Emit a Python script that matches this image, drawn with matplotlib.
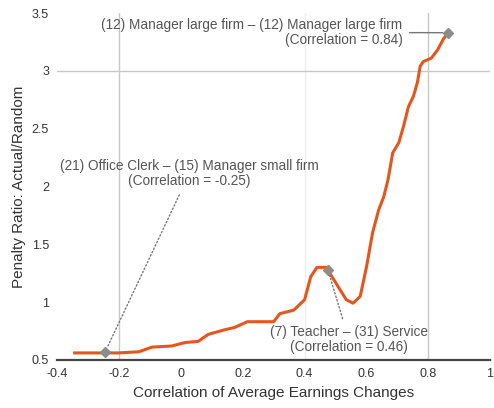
import numpy as np
import matplotlib
matplotlib.use("Agg")
import matplotlib.pyplot as plt

plt.rcParams['font.family'] = ['Liberation Sans', 'DejaVu Sans']

# curve
corr = [-0.344, -0.30, -0.25, -0.20, -0.136, -0.094, -0.03, 0.014, 0.056, 0.088,
        0.141, 0.173, 0.215, 0.25, 0.30, 0.32, 0.365, 0.40, 0.42, 0.44, 0.47,
        0.50, 0.535, 0.557, 0.58, 0.60, 0.62, 0.64, 0.656, 0.67, 0.685, 0.705,
        0.72, 0.736, 0.752, 0.765, 0.774, 0.784, 0.81, 0.83, 0.85, 0.865]
ratio = [0.56, 0.56, 0.56, 0.56, 0.57, 0.61, 0.62, 0.65, 0.66, 0.72,
         0.76, 0.78, 0.83, 0.83, 0.83, 0.90, 0.93, 1.02, 1.22, 1.30, 1.30,
         1.17, 1.02, 0.99, 1.05, 1.30, 1.60, 1.80, 1.91, 2.06, 2.29, 2.38,
         2.52, 2.69, 2.78, 2.90, 3.04, 3.08, 3.11, 3.18, 3.28, 3.33]

# highlighted pairs
pt_x = [-0.245, 0.475, 0.865]
pt_y = [0.57, 1.28, 3.33]
pt_labels = ["(21) Office Clerk \u2013 (15) Manager small firm\n(Correlation = -0.25)",
             "(7) Teacher \u2013 (31) Service\n(Correlation = 0.46)",
             "(12) Manager large firm \u2013 (12) Manager large firm\n(Correlation = 0.84)"]
txt_x = [0.027, 0.544, 0.717]
txt_y = [2.11, 0.673, 3.333]
txt_ha = ['center', 'center', 'right']
txt_ls = [':', ':', '-']

xticks = [-0.4, -0.2, 0, 0.2, 0.4, 0.6, 0.8, 1]
xticklabels = ['-0.4', '-0.2', '0', '0.2', '0.4', '0.6', '0.8', '1']
yticks = [0.5, 1, 1.5, 2, 2.5, 3, 3.5]
yticklabels = ['0.5', '1', '1.5', '2', '2.5', '3', '3.5']

fig = plt.figure(figsize=(4.94, 4.08), dpi=100)
ax = fig.add_axes([0.116, 0.118, 0.876, 0.850])

ax.axvline(0.4, color='#ededed', lw=1, zorder=0)
ax.axvline(-0.2, color='#c8c8c8', lw=1, zorder=0)
ax.axvline(0.8, color='#c8c8c8', lw=1, zorder=0)
ax.axhline(3, color='#c8c8c8', lw=1, zorder=0)

ax.plot(corr, ratio, color='#E4561B', lw=2.2, zorder=3)
ax.plot(pt_x, pt_y, 'D', color='#8c8c8c', ms=5, zorder=4, ls='none')

for i in range(len(pt_x)):
    ax.annotate(pt_labels[i], xy=(pt_x[i], pt_y[i]), xytext=(txt_x[i], txt_y[i]),
                ha=txt_ha[i], va='center', multialignment=txt_ha[i],
                fontsize=9.8, color='#555555', linespacing=1.1,
                arrowprops=dict(arrowstyle='-', color='#777777', lw=1,
                                ls=txt_ls[i], shrinkA=3, shrinkB=4))

ax.set_xlim(-0.4, 1.0)
ax.set_ylim(0.5, 3.5)
ax.set_xticks(xticks)
ax.set_xticklabels(xticklabels)
ax.set_yticks(yticks)
ax.set_yticklabels(yticklabels)
ax.tick_params(length=0, labelsize=9, labelcolor='#333333', pad=6)
ax.set_xticks([-0.2, 0.8], minor=True)
ax.set_yticks([3], minor=True)
ax.tick_params(which='minor', length=5, width=1.5, color='#333333',
               direction='in', top=True, right=True, bottom=True, left=True)

for s in ['top', 'right', 'left']:
    ax.spines[s].set_visible(False)
ax.spines['bottom'].set_linewidth(1.6)
ax.spines['bottom'].set_color('#444444')

ax.set_xlabel("Correlation of Average Earnings Changes", fontsize=11, color='#333333', labelpad=4)
ax.set_ylabel("Penalty Ratio: Actual/Random", fontsize=11, color='#333333', labelpad=4)

fig.savefig("out.png", dpi=100)
